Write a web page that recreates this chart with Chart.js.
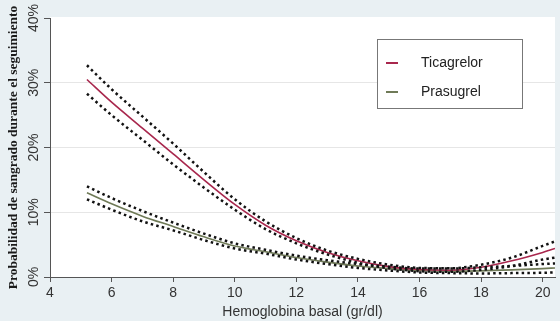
<!DOCTYPE html>
<html>
<head>
<meta charset="utf-8">
<script src="https://cdn.jsdelivr.net/npm/chart.js@4"></script>
<style>
  html, body { margin: 0; padding: 0; background: #e9f0f3; }
  #wrap { width: 560px; height: 321px; }
</style>
</head>
<body>
<div id="wrap"><canvas id="bleedChart" width="560" height="321"></canvas></div>
<script>
// Hemoglobina basal (gr/dl)
const hemoglobin = [5.2, 6, 7, 8, 9, 10, 11, 12, 13, 14, 15, 16, 17, 18, 19, 20, 20.4];

// Ticagrelor: estimate and 95% band (%)
const ticaMain  = [30.5, 27.0, 23.0, 19.0, 15.0, 11.2, 8.0, 5.6, 3.8, 2.5, 1.6, 1.15, 1.05, 1.5, 2.5, 3.8, 4.4];
const ticaUpper = [32.7, 29.0, 24.8, 20.6, 16.2, 12.0, 8.6, 6.0, 4.1, 2.8, 1.9, 1.4, 1.35, 1.9, 3.0, 4.8, 5.5];
const ticaLower = [28.3, 25.0, 21.2, 17.4, 13.8, 10.4, 7.4, 5.2, 3.5, 2.2, 1.35, 0.9, 0.8, 1.1, 1.7, 2.7, 3.0];

// Prasugrel: estimate and 95% band (%)
const prasMain  = [13.0, 11.3, 9.4, 7.8, 6.2, 4.8, 3.9, 3.0, 2.3, 1.7, 1.3, 1.0, 0.9, 0.95, 1.1, 1.3, 1.4];
const prasUpper = [14.0, 12.2, 10.2, 8.4, 6.7, 5.2, 4.2, 3.3, 2.6, 2.0, 1.6, 1.3, 1.3, 1.5, 1.7, 2.0, 2.1];
const prasLower = [12.0, 10.4, 8.6, 7.2, 5.7, 4.4, 3.6, 2.7, 2.0, 1.4, 1.0, 0.7, 0.6, 0.55, 0.6, 0.65, 0.7];

const xTicks = [4, 6, 8, 10, 12, 14, 16, 18, 20];
const yTicks = [0, 10, 20, 30, 40];

const ticaColor = '#a8274d';
const prasColor = '#6f7a57';

function pts(ys) {
    return hemoglobin.map((x, i) => ({ x: x, y: ys[i] }));
}

function band(label, ys) {
    return {
        label: label,
        data: pts(ys),
        borderColor: '#111',
        borderWidth: 2.5,
        borderDash: [2.5, 3.2],
        pointRadius: 0,
        cubicInterpolationMode: 'monotone',
        fill: false,
        isBand: true
    };
}

function mainLine(label, ys, color) {
    return {
        label: label,
        data: pts(ys),
        borderColor: color,
        borderWidth: 1.6,
        pointRadius: 0,
        cubicInterpolationMode: 'monotone',
        fill: false
    };
}

// plot background: grey frame, white plotting area
const plotBg = {
    id: 'plotBg',
    beforeDraw(chart) {
        const { ctx, chartArea } = chart;
        ctx.save();
        ctx.fillStyle = '#e9f0f3';
        ctx.fillRect(0, 0, chart.width, chart.height);
        ctx.fillStyle = '#ffffff';
        ctx.fillRect(chartArea.left, chartArea.top - 1, chartArea.right - chartArea.left, chartArea.bottom - chartArea.top + 1);
        ctx.restore();
    }
};

// boxed legend inside the plot, upper right
const boxLegend = {
    id: 'boxLegend',
    afterDraw(chart) {
        const ctx = chart.ctx;
        const items = chart.data.datasets.filter(d => !d.isBand);
        ctx.save();
        ctx.fillStyle = '#ffffff';
        ctx.fillRect(377, 39, 146, 69);
        ctx.strokeStyle = '#777';
        ctx.lineWidth = 1;
        ctx.strokeRect(377.5, 39.5, 145, 69);
        ctx.font = '14px "Liberation Sans", Arial, sans-serif';
        ctx.textBaseline = 'middle';
        items.forEach((d, i) => {
            const y = 63 + i * 29;
            ctx.strokeStyle = d.borderColor;
            ctx.lineWidth = 2;
            ctx.beginPath();
            ctx.moveTo(386, y);
            ctx.lineTo(398, y);
            ctx.stroke();
            ctx.fillStyle = '#222';
            ctx.fillText(d.label, 421, y);
        });
        ctx.restore();
    }
};

document.addEventListener('DOMContentLoaded', function () {
    const ctx = document.getElementById('bleedChart').getContext('2d');
    new Chart(ctx, {
        type: 'line',
        data: {
            datasets: [
                band('Ticagrelor IC sup', ticaUpper),
                band('Ticagrelor IC inf', ticaLower),
                band('Prasugrel IC sup', prasUpper),
                band('Prasugrel IC inf', prasLower),
                mainLine('Ticagrelor', ticaMain, ticaColor),
                mainLine('Prasugrel', prasMain, prasColor)
            ]
        },
        options: {
            responsive: false,
            animation: false,
            layout: { padding: { top: 18, right: 5, left: 0, bottom: 0 } },
            plugins: {
                legend: { display: false },
                tooltip: { enabled: false }
            },
            scales: {
                x: {
                    type: 'linear',
                    min: 4,
                    max: 20.4,
                    afterFit: s => { s.height = 44; },
                    afterBuildTicks: s => { s.ticks = xTicks.map(v => ({ value: v })); },
                    ticks: {
                        includeBounds: false,
                        padding: 3,
                        color: '#333',
                        font: { family: '"Liberation Sans", Arial, sans-serif', size: 14 },
                        maxRotation: 0
                    },
                    grid: { drawOnChartArea: false, drawTicks: true, tickLength: 5, color: '#555' },
                    border: { display: true, color: '#555', width: 1 },
                    title: {
                        display: true,
                        text: 'Hemoglobina basal (gr/dl)',
                        color: '#333',
                        font: { family: '"Liberation Sans", Arial, sans-serif', size: 14 },
                        padding: { top: 0, bottom: 0 }
                    }
                },
                y: {
                    min: 0,
                    max: 40,
                    afterFit: s => { s.width = 50; },
                    afterBuildTicks: s => { s.ticks = yTicks.map(v => ({ value: v })); },
                    ticks: {
                        minRotation: 90,
                        maxRotation: 90,
                        crossAlign: 'center',
                        padding: -4,
                        color: '#333',
                        font: { family: '"Liberation Sans", Arial, sans-serif', size: 14 },
                        callback: v => v + '%'
                    },
                    grid: {
                        color: c => (c.tick && (c.tick.value === 0 || c.tick.value === 40)) ? 'rgba(0,0,0,0)' : '#e6e6e6',
                        tickColor: '#555',
                        tickLength: 6,
                        drawTicks: true
                    },
                    border: { display: true, color: '#555', width: 1 },
                    title: {
                        display: true,
                        text: 'Probabilidad de sangrado durante el seguimiento',
                        color: '#1a1a1a',
                        font: { family: '"Liberation Serif", "Times New Roman", serif', size: 13.5, weight: 'bold' },
                        padding: { top: 5, bottom: 0 }
                    }
                }
            }
        },
        plugins: [plotBg, boxLegend]
    });
});
</script>
</body>
</html>
